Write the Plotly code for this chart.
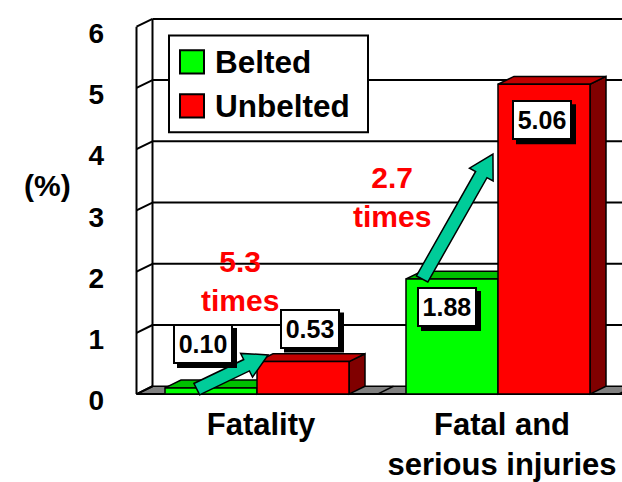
import plotly.graph_objects as go

# ---- data -------------------------------------------------------------
categories = ["Fatality", "Fatal and<br>serious injuries"]
series_names = ["Belted", "Unbelted"]
belted = [0.10, 1.88]
unbelted = [0.53, 5.06]
ratio_text = ["5.3<br>times", "2.7<br>times"]
y_ticks = [0, 1, 2, 3, 4, 5, 6]

# ---- styling ----------------------------------------------------------
FONT = "Arial, Liberation Sans, sans-serif"
GREEN, GREEN_TOP, GREEN_SIDE = "#00FF00", "#00C000", "#008000"
RED, RED_TOP, RED_SIDE = "#FF0000", "#C00000", "#800000"
FLOOR = "#808080"
ARROW = "#00CC99"
EDGE = 1.5

W, H = 622, 482
ML, MR, MT, MB = 120, 0, 8, 40
PW, PH = W - ML - MR, H - MT - MB

# pixel scale of the data axes
X_CAT0, X_UNIT = 257, 241.0     # px of category 0, px per category
Y_ZERO, Y_UNIT = 396, 62.67     # px of value 0, px per percent


def x_of(px):
    return (px - X_CAT0) / X_UNIT


def y_of(py):
    return (Y_ZERO - py) / Y_UNIT


def paper_x(px):
    return (px - ML) / PW


def paper_y(py):
    return (H - MB - py) / PH


# depth of the 3-D box
DX, DY = 16 / X_UNIT, 8 / Y_UNIT
BAR_W = 92 / X_UNIT
XL, XR = -0.5, len(categories) - 0.5
YMAX = y_ticks[-1]

xs = list(range(len(categories)))

fig = go.Figure()
fig.add_trace(go.Bar(x=xs, y=belted, width=BAR_W, offset=-BAR_W,
                     marker=dict(color=GREEN, line=dict(color="black", width=EDGE)),
                     name=series_names[0], showlegend=False, hoverinfo="skip"))
fig.add_trace(go.Bar(x=xs, y=unbelted, width=BAR_W, offset=0,
                     marker=dict(color=RED, line=dict(color="black", width=EDGE)),
                     name=series_names[1], showlegend=False, hoverinfo="skip"))
# carrier for the tick-label axis
fig.add_trace(go.Scatter(x=[None], y=[None], yaxis="y2", showlegend=False,
                         hoverinfo="skip"))

shapes = []


def poly(pts, fill, layer="below", width=EDGE):
    d = "M " + " L ".join(f"{x:.5f},{y:.5f}" for x, y in pts) + " Z"
    shapes.append(dict(type="path", path=d, xref="x", yref="y",
                       fillcolor=fill, line=dict(color="black", width=width),
                       layer=layer))


def seg(x0, y0, x1, y1, width=2):
    shapes.append(dict(type="line", x0=x0, y0=y0, x1=x1, y1=y1, xref="x",
                       yref="y", line=dict(color="black", width=width),
                       layer="below"))


# floor
poly([(XL, 0), (XR + 0.2, 0), (XR + 0.2 + DX, DY), (XL + DX, DY)], FLOOR)
for b in [XL + i for i in range(len(categories) + 1)]:
    seg(b, 0, b + DX, DY, width=EDGE)
# back wall grid + side wall diagonals
for v in y_ticks:
    seg(XL, v, XL + DX, v + DY)
    if v > 0:
        seg(XL + DX, v + DY, XR + 0.2, v + DY)
seg(XL + DX, DY, XL + DX, YMAX + DY)
seg(XL, 0, XL, YMAX)
seg(XL, 0, XR + 0.2, 0)

# top and side faces of the bars
for vals, off, top, side in [(belted, -BAR_W, GREEN_TOP, GREEN_SIDE),
                             (unbelted, 0, RED_TOP, RED_SIDE)]:
    for x, v in zip(xs, vals):
        x0, x1 = x + off, x + off + BAR_W
        poly([(x1, 0), (x1, v), (x1 + DX, v + DY), (x1 + DX, DY)], side)
        poly([(x0, v), (x1, v), (x1 + DX, v + DY), (x0 + DX, v + DY)], top)

# block arrows from the belted bar to the unbelted bar
arrow_from = [(-0.25, belted[0] - 0.02), (0.685, belted[1])]
arrow_to = [(0.046, 0.64), (0.979, 3.92)]
BODY, HEAD_W, HEAD_L = 6.5, 13.5, 24
for (xa, ya), (xb, yb) in zip(arrow_from, arrow_to):
    ax, ay = X_CAT0 + xa * X_UNIT, Y_ZERO - ya * Y_UNIT
    bx, by = X_CAT0 + xb * X_UNIT, Y_ZERO - yb * Y_UNIT
    L = ((bx - ax) ** 2 + (by - ay) ** 2) ** 0.5
    ux, uy = (bx - ax) / L, (by - ay) / L
    nx, ny = -uy, ux
    hx, hy = bx - ux * HEAD_L, by - uy * HEAD_L
    pts_px = [(ax + nx * BODY, ay + ny * BODY), (hx + nx * BODY, hy + ny * BODY),
              (hx + nx * HEAD_W, hy + ny * HEAD_W), (bx, by),
              (hx - nx * HEAD_W, hy - ny * HEAD_W), (hx - nx * BODY, hy - ny * BODY),
              (ax - nx * BODY, ay - ny * BODY)]
    poly([(x_of(px), y_of(py)) for px, py in pts_px], ARROW, layer="above")

annotations = []

# value labels in boxed call-outs with a drop shadow
BOX_W, BOX_H, PAD, BW, SHADOW = 50, 30, 3, 2, 4
half_w = BOX_W / 2 + PAD + BW
half_h = BOX_H / 2 + PAD + BW
label_shift = {(0, 0): (-8, 44), (0, 1): (7, 33), (1, 0): (-5, -28), (1, 1): (-2, -36)}
for s, (vals, off) in enumerate([(belted, -BAR_W), (unbelted, 0)]):
    for i, v in enumerate(vals):
        sx, sy = label_shift[(i, s)]
        cx = xs[i] + off + BAR_W / 2
        shapes.append(dict(type="rect", xref="x", yref="y",
                           xsizemode="pixel", ysizemode="pixel",
                           xanchor=cx, yanchor=v,
                           x0=sx + SHADOW - half_w, x1=sx + SHADOW + half_w,
                           y0=sy - SHADOW - half_h, y1=sy - SHADOW + half_h,
                           fillcolor="black", line=dict(width=0), layer="above"))
        annotations.append(dict(x=cx, y=v, xref="x", yref="y", text=f"<b>{v:.2f}</b>",
                                showarrow=False, xshift=sx, yshift=sy,
                                width=BOX_W, height=BOX_H, valign="middle",
                                bgcolor="white", bordercolor="black", borderwidth=BW,
                                borderpad=PAD,
                                font=dict(family=FONT, size=25, color="black")))

# ratio call-outs
ratio_pos = [(-0.07, 1.85), (0.56, 3.22)]
for (x, y), t in zip(ratio_pos, ratio_text):
    annotations.append(dict(x=x, y=y, xref="x", yref="y", text=f"<b>{t}</b>",
                            showarrow=False, xanchor="center",
                            font=dict(family=FONT, size=30, color=RED)))

# axis unit
annotations.append(dict(x=paper_x(47), y=paper_y(183), xref="paper", yref="paper",
                        xanchor="center", yanchor="middle",
                        text="<b>(%)</b>", showarrow=False,
                        font=dict(family=FONT, size=30, color="black")))

# legend
shapes.append(dict(type="rect", xref="paper", yref="paper",
                   x0=paper_x(169), x1=paper_x(368), y0=paper_y(29), y1=paper_y(128),
                   fillcolor="white", line=dict(color="black", width=2), layer="above"))
for k, (name, col) in enumerate(zip(series_names, [GREEN, RED])):
    cy = 56 + k * 45
    shapes.append(dict(type="rect", xref="paper", yref="paper",
                       x0=paper_x(180), x1=paper_x(204),
                       y0=paper_y(cy - 12), y1=paper_y(cy + 12),
                       fillcolor=col, line=dict(color="black", width=2), layer="above"))
    annotations.append(dict(x=paper_x(213), y=paper_y(cy), xref="paper", yref="paper",
                            xanchor="left", yanchor="middle", text=f"<b>{name}</b>",
                            showarrow=False,
                            font=dict(family=FONT, size=31.5, color="black")))

fig.update_layout(
    width=W, height=H,
    margin=dict(l=ML, r=MR, t=MT, b=MB),
    paper_bgcolor="white", plot_bgcolor="rgba(0,0,0,0)",
    barmode="overlay", hovermode=False,
    xaxis=dict(range=[x_of(ML), x_of(W - MR)], anchor="free",
               position=paper_y(Y_ZERO), tickvals=xs, ticktext=categories,
               showgrid=False, zeroline=False, showline=False, ticks="",
               ticklabelstandoff=9, ticklabelshift=4,
               tickfont=dict(family=FONT, size=31, color="black", weight="bold")),
    yaxis=dict(range=[y_of(H - MB), y_of(MT)], visible=False),
    yaxis2=dict(range=[0, YMAX], domain=[paper_y(402.5), paper_y(26.5)], anchor="free",
                position=paper_x(136), tickvals=y_ticks, showgrid=False,
                zeroline=False, showline=False, ticks="", ticklabelstandoff=32,
                tickfont=dict(family=FONT, size=28, color="black", weight="bold")),
    shapes=shapes,
    annotations=annotations,
)

fig.write_html("out.html")
